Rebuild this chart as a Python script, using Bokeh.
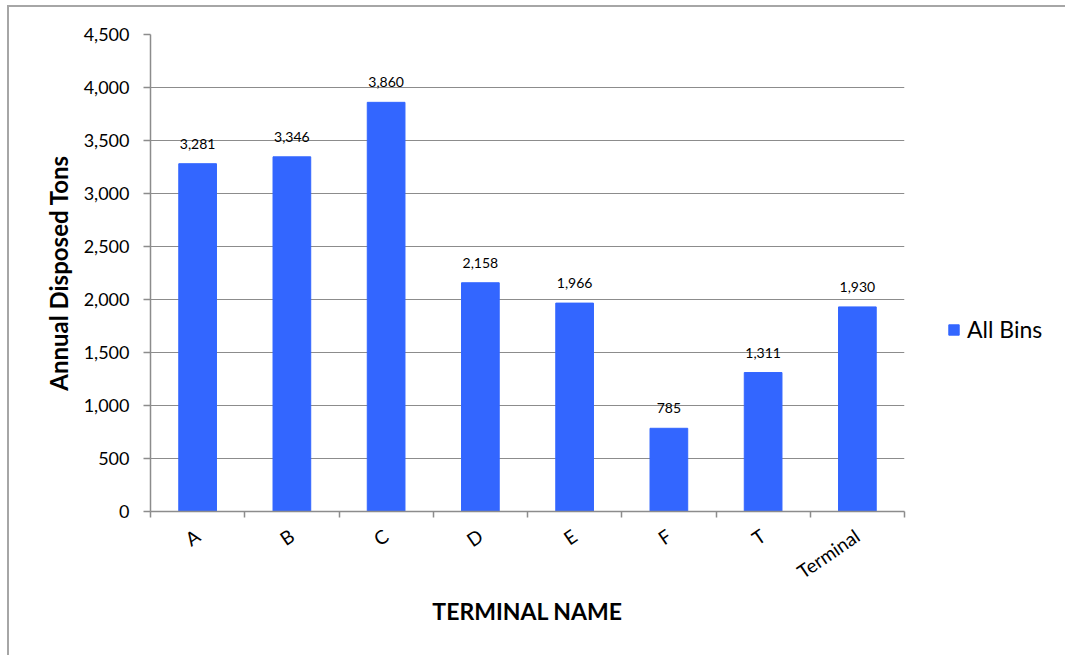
from bokeh.plotting import figure
from bokeh.models import (Range1d, FixedTicker, NumeralTickFormatter, Legend, LegendItem,
                          ColumnDataSource)
from bokeh.core.properties import value
from bokeh.embed import file_html
from bokeh.resources import INLINE

categories = ["A", "B", "C", "D", "E", "F", "T", "Terminal"]
tons = [3281, 3346, 3860, 2158, 1966, 785, 1311, 1930]
y_ticks = [0, 500, 1000, 1500, 2000, 2500, 3000, 3500, 4000, 4500]
series_name = "All Bins"

FONT = "Lato"
BAR = "#3366FF"
GRID = "#8c8c8c"

xs = [i + 0.5 for i in range(len(categories))]
src = ColumnDataSource(dict(x=xs, top=tons, lbl=[f"{v:,}" for v in tons]))

p = figure(frame_width=754, frame_height=477, output_backend="svg", toolbar_location=None,
           x_range=Range1d(0, len(categories)), y_range=Range1d(0, 4500),
           min_border_left=141, min_border_right=160, min_border_top=27, min_border_bottom=146)
p.styles = {"border-top": "2px solid #a6a6a6", "border-left": "2px solid #a6a6a6",
            "margin-top": "5px", "margin-left": "7px"}
p.outline_line_color = None

bars = p.vbar(x="x", top="top", width=0.4, source=src, fill_color=BAR, line_color=BAR)
p.text(x="x", y="top", text="lbl", source=src, text_align="center", text_baseline="middle",
       y_offset=-20, text_font=value(FONT), text_font_size="14px", text_color="black")

# y axis
yax = p.yaxis[0]
yax.ticker = FixedTicker(ticks=y_ticks)
yax.formatter = NumeralTickFormatter(format="0,0")
yax.major_label_text_font = FONT
yax.major_label_text_font_size = "18px"
yax.major_label_text_color = "black"
yax.major_tick_out = 7
yax.major_tick_in = 0
yax.minor_tick_out = 0
yax.minor_tick_in = 0
yax.major_label_standoff = 14
yax.axis_line_color = GRID
yax.axis_line_width = 1.5
yax.major_tick_line_color = GRID
yax.major_tick_line_width = 1.5
yax.axis_label = "Annual Disposed Tons"
yax.axis_label_text_font = FONT
yax.axis_label_text_font_style = "bold"
yax.axis_label_text_font_size = "24px"
yax.axis_label_text_color = "black"
yax.axis_label_standoff = 8

# x axis
xax = p.xaxis[0]
xax.ticker = FixedTicker(ticks=xs, minor_ticks=list(range(len(categories) + 1)))
xax.major_label_overrides = {x: c for x, c in zip(xs, categories)}
xax.major_label_orientation = 0.6
xax.major_label_text_font = FONT
xax.major_label_text_font_size = "19px"
xax.major_label_text_color = "black"
xax.major_label_standoff = 16
xax.major_tick_out = 0
xax.major_tick_in = 0
xax.minor_tick_out = 6
xax.minor_tick_in = 0
xax.minor_tick_line_color = GRID
xax.minor_tick_line_width = 1.5
xax.axis_line_color = GRID
xax.axis_line_width = 1.5
xax.axis_label = "TERMINAL NAME"
xax.axis_label_text_font = FONT
xax.axis_label_text_font_style = "bold"
xax.axis_label_text_font_size = "23px"
xax.axis_label_text_color = "black"
xax.axis_label_standoff = 2

p.xgrid.grid_line_color = None
p.ygrid.grid_line_color = GRID
p.ygrid.grid_line_width = 1
p.ygrid.ticker = FixedTicker(ticks=y_ticks)

legend = Legend(items=[LegendItem(label=series_name, renderers=[bars])],
                location=(43, 168), border_line_color=None, background_fill_alpha=0,
                padding=0, margin=0, glyph_width=13, glyph_height=13, label_standoff=7,
                label_text_font=FONT, label_text_font_size="23px", label_text_color="black")
p.add_layout(legend, "right")

open("out.html", "w").write(file_html(p, INLINE))
